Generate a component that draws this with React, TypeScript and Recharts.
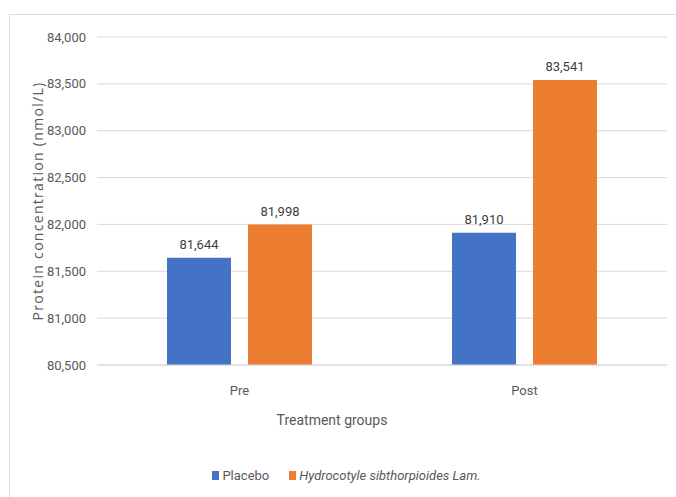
import React from 'react';
import { BarChart, Bar, XAxis, YAxis, CartesianGrid, Legend, LabelList } from 'recharts';

const categories = ['Pre', 'Post'];
const placeboValues = [81644, 81910];
const hydrocotyleValues = [81998, 83541];
const yTicks = [80500, 81000, 81500, 82000, 82500, 83000, 83500, 84000];
const seriesNames = ['Placebo', 'Hydrocotyle sibthorpioides Lam.'];

const data = categories.map((c, i) => ({
  name: c,
  placebo: placeboValues[i],
  hydro: hydrocotyleValues[i],
}));

const FONT = "'Roboto', sans-serif";
const fmt = (v: number) => v.toLocaleString('en-US');

const renderLegend = (props: any) => {
  const payload = [...(props.payload || [])].sort(
    (a: any, b: any) => seriesNames.indexOf(a.value) - seriesNames.indexOf(b.value)
  );
  return (
    <div style={{ display: 'flex', justifyContent: 'center', alignItems: 'center', fontFamily: FONT, fontSize: 13, color: '#595959', height: 20, marginLeft: -4 }}>
      {payload.map((p: any, i: number) => (
        <div key={i} style={{ display: 'flex', alignItems: 'center', marginLeft: i === 0 ? 0 : 20 }}>
          <span style={{ display: 'inline-block', width: 7, height: 9, background: p.color, marginRight: 3 }} />
          <span style={{ fontStyle: p.value === seriesNames[1] ? 'italic' : 'normal' }}>{p.value}</span>
        </div>
      ))}
    </div>
  );
};

const YTitle = (props: any) => {
  const vb = props.viewBox || {};
  const cx = 37;
  const cy = vb.y + vb.height / 2;
  return (
    <text
      x={cx}
      y={cy}
      transform={`rotate(-90, ${cx}, ${cy})`}
      textAnchor="middle"
      dominantBaseline="central"
      fill="#595959"
      fontSize={14}
      fontFamily="'Open Sans', sans-serif"
      letterSpacing={1.3}
    >
      Protein concentration (nmol/L)
    </text>
  );
};

export default function App() {
  return (
    <div style={{ position: 'absolute', left: 0, top: 0, width: 676, height: 497, background: '#fff', overflow: 'hidden' }}>
      <div style={{ position: 'absolute', left: 9, top: 14, width: 700, height: 520, borderLeft: '1px solid #d9d9d9', borderTop: '1px solid #d9d9d9' }} />
      <BarChart
        width={676}
        height={497}
        data={data}
        margin={{ top: 37, right: 9, left: 30, bottom: 12 }}
        barSize={64}
        barGap={17}
        style={{ position: 'absolute', left: 0, top: 0 }}
      >
        <CartesianGrid vertical={false} stroke="#d9d9d9" strokeWidth={1} />
        <XAxis
          dataKey="name"
          height={100}
          tickLine={false}
          tickSize={0}
          tickMargin={21}
          axisLine={{ stroke: '#d9d9d9' }}
          tick={{ fill: '#595959', fontSize: 13, fontFamily: FONT }}
          label={{ value: 'Treatment groups', position: 'insideBottom', offset: 40, dx: -50, fill: '#595959', fontSize: 14, fontFamily: FONT }}
        />
        <YAxis
          width={67}
          domain={[80500, 84000]}
          ticks={yTicks}
          interval={0}
          tickFormatter={fmt}
          tickLine={false}
          axisLine={false}
          tickSize={0}
          tickMargin={11}
          tick={{ fill: '#595959', fontSize: 13, fontFamily: FONT }}
          label={<YTitle />}
        />
        <Legend
          verticalAlign="bottom"
          height={20}
          content={renderLegend}
          wrapperStyle={{ height: 20 }}
        />
        <Bar dataKey="placebo" name={seriesNames[0]} fill="#4472C4" isAnimationActive={false}>
          <LabelList dataKey="placebo" position="top" offset={9} formatter={(v: any) => fmt(Number(v))} fill="#404040" fontSize={13} fontFamily={FONT} />
        </Bar>
        <Bar dataKey="hydro" name={seriesNames[1]} fill="#ED7D31" isAnimationActive={false}>
          <LabelList dataKey="hydro" position="top" offset={9} formatter={(v: any) => fmt(Number(v))} fill="#404040" fontSize={13} fontFamily={FONT} />
        </Bar>
      </BarChart>
    </div>
  );
}
